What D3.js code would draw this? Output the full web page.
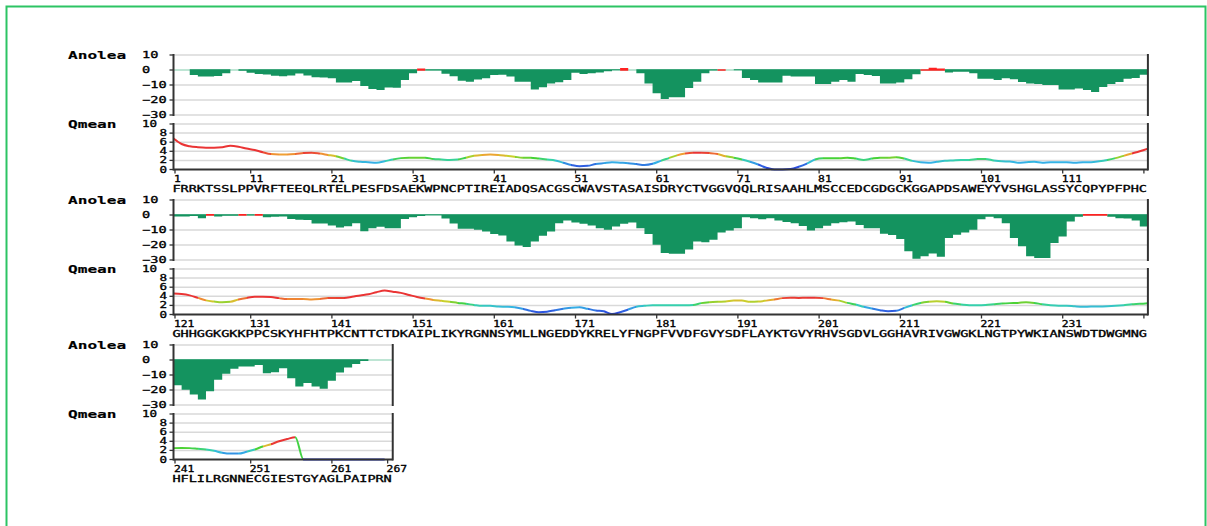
<!DOCTYPE html>
<html>
<head>
<meta charset="utf-8">
<script src="https://cdn.jsdelivr.net/npm/d3@7"></script>
<style>
  html, body { margin: 0; padding: 0; background: #ffffff; }
  svg { display: block; }
</style>
</head>
<body>
<svg id="chart" width="1207" height="526"></svg>
<script>
// Protein sequence, one letter per residue (1..267)
const sequence =
  "FRRKTSSLPPVRFTEEQLRTELPESFDSAEKWPNCPTIREIADQSACGSCWAVSTASAISDRYCTVGGVQQLRISAAHLMSCCEDCGDGCKGGAPDSAWEYYVSHGLASSYCQPYPFPHC" +
  "GHHGGKGKKPPCSKYHFHTPKCNTTCTDKAIPLIKYRGNNSYMLLNGEDDYKRELYFNGPFVVDFGVYSDFLAYKTGVYRHVSGDVLGGHAVRIVGWGKLNGTPYWKIANSWDTDWGMNG" +
  "HFLILRGNNECGIESTGYAGLPAIPRN";

// ANOLEA energy per residue (1..267)
const anolea = [
  0, 0, -3.3, -4.4, -4.4, -4, -2.2, 0, -0.5, -1.8,
  -2.7, -3, -3.8, -4.2, -3.6, -2.4, -3.6, -4.9, -5, -5.5,
  -8.4, -8.4, -7.3, -10.7, -12.7, -13.3, -11.6, -11.8, -6.7, -2.2,
  1, -0.3, -0.3, -2.5, -4.2, -7.1, -7.8, -6.4, -5.5, -3.3,
  -3.1, -4.4, -7.8, -7.8, -13, -11.5, -9, -8.2, -6.7, -1.8,
  -2.7, -2.2, -1.6, -0.9, -0.2, 1.3, 0, -2.2, -9, -15.5,
  -19.3, -18.2, -18.2, -12, -7.8, -2.2, -0.4, 0.5, 0, -0.2,
  -5.3, -6.7, -8.4, -8.4, -8.4, -3.8, -4.4, -4.4, -4.4, -9.3,
  -9.3, -7.8, -6.7, -7.8, -2.7, -3.3, -4, -9, -9, -8.4,
  -6.2, -2.9, 0.5, 1.5, 1, -1.6, -1.1, -1.1, -2.2, -5.8,
  -5.8, -6.7, -5.5, -6.2, -8, -9, -9.3, -10, -10, -13,
  -13, -12.4, -13.3, -14.7, -11.3, -9.3, -8, -5.8, -5.3, -3.1,
  -1, -1, -0.7, -2.2, 0.7, -1, -0.5, -0.5, 0.7, -0.4,
  0.7, -1.5, -1.2, -1, -2.6, -3.1, -3.3, -5.7, -5.7, -7,
  -8.4, -7.5, -5.5, -10.8, -8.8, -7.9, -8.8, -8.8, -2.6, -1.5,
  -0.7, -0.2, -0.2, -2.4, -5.7, -9.2, -9.2, -9.9, -11, -12.7,
  -13.6, -17.6, -20.4, -21.3, -17.6, -13.8, -11, -5.5, -3.7, -5,
  -5.9, -7, -8.8, -9.9, -7.7, -5.9, -5, -8.8, -12.7, -19.8,
  -25.3, -25.9, -25.9, -23, -17.6, -18.2, -16.5, -11.6, -10.3, -8.8,
  -1.5, -2.2, -2.9, -2.2, -3.7, -4.6, -5.5, -7.3, -10.3, -8.8,
  -7.2, -5.5, -4.8, -4.4, -6.6, -8.8, -8.8, -12.5, -13.4, -16,
  -24.2, -29.2, -27.5, -25.7, -27.9, -15.4, -13.2, -11.6, -9.9, -2.9,
  -1.1, -2.2, -5.5, -15.4, -20.9, -27.5, -28.6, -28.6, -18.7, -14.3,
  -4.4, -1.1, 0.7, 0.7, 0.7, -1.1, -2.2, -2.4, -3.7, -7.7,
  -16.9, -19.8, -23, -26.4, -20.9, -13.2, -9.2, -5.9, -4.4, -4.4,
  -3.3, -8.8, -8.1, -5.5, -12.1, -17.6, -15.4, -17.6, -19.1, -13.8,
  -8.4, -5, -2.6, -0.7, 0, 0, 0
];

// QMEAN local score per residue (1..267)
const qmean = [
  6.8, 5.6, 5.1, 4.9, 4.8, 4.8, 4.9, 5.2, 5.0, 4.6,
  4.3, 3.8, 3.4, 3.3, 3.3, 3.4, 3.6, 3.7, 3.5, 3.2,
  2.9, 2.4, 1.9, 1.7, 1.6, 1.5, 1.8, 2.2, 2.5, 2.6,
  2.6, 2.6, 2.3, 2.2, 2.1, 2.2, 2.6, 3.0, 3.2, 3.3,
  3.2, 3.0, 2.8, 2.6, 2.6, 2.4, 2.2, 2.0, 1.5, 1.0,
  0.7, 0.8, 1.2, 1.4, 1.6, 1.5, 1.4, 1.2, 1.0, 1.25,
  1.9, 2.5, 3.1, 3.5, 3.7, 3.7, 3.6, 3.4, 2.9, 2.6,
  2.2, 1.7, 1.1, 0.4, 0, 0, 0.1, 0.6, 1.3, 2.2,
  2.5, 2.5, 2.5, 2.6, 2.4, 2.1, 2.4, 2.6, 2.6, 2.7,
  2.4, 1.9, 1.6, 1.5, 1.7, 1.9, 2.0, 2.1, 2.1, 2.3,
  2.3, 2.0, 1.8, 1.75, 1.5, 1.6, 1.7, 1.5, 1.6, 1.6,
  1.6, 1.5, 1.6, 1.6, 1.8, 2.1, 2.5, 3.0, 3.5, 4.0,
  4.6, 4.5, 4.2, 3.65, 3.1, 2.85, 2.7, 2.8, 3.3, 3.65,
  3.9, 3.9, 3.85, 3.6, 3.4, 3.4, 3.4, 3.3, 3.4, 3.6,
  3.65, 3.65, 3.9, 4.2, 4.45, 4.9, 5.25, 5.0, 4.75, 4.3,
  3.85, 3.5, 3.2, 3.0, 2.8, 2.55, 2.35, 2.1, 1.9, 1.9,
  1.75, 1.7, 1.6, 1.25, 0.8, 0.5, 0.6, 0.95, 1.25, 1.5,
  1.6, 1.25, 0.9, 0.7, 0.1, 0.5, 1.1, 1.7, 1.9, 2.05,
  2.05, 2.05, 2.05, 2.05, 2.1, 2.5, 2.7, 2.8, 2.85, 3.05,
  3.05, 2.8, 2.85, 3.05, 3.3, 3.6, 3.7, 3.65, 3.7, 3.7,
  3.6, 3.3, 3.05, 2.55, 2.2, 1.7, 1.3, 0.95, 0.7, 0.8,
  1.45, 2.05, 2.55, 2.8, 2.9, 2.8, 2.4, 2.2, 2.05, 2.05,
  2.1, 2.25, 2.4, 2.5, 2.55, 2.7, 2.55, 2.25, 2.05, 1.95,
  1.95, 1.8, 1.7, 1.75, 1.75, 1.8, 1.9, 2.05, 2.25, 2.35,
  2.5, 2.55, 2.5, 2.35, 2.2, 1.9, 1.5, 1.3, 1.3, 1.7,
  2.2, 2.85, 3.35, 4.0, 4.5, 4.9, 0, 0, 0, 0,
  0, 0, 0, 0, 0, 0, 0
];

// Residue ranges shown on each line of the plot
const rowStarts = [1, 121, 241];
const rowEnds = [120, 240, 267];

// Axis ticks
const anoleaTicks = [10, 0, -10, -20, -30];
const qmeanTicks = [10, 8, 6, 4, 2, 0];
const residueTicks = [
  [1, 11, 21, 31, 41, 51, 61, 71, 81, 91, 101, 111, 121],
  [121, 131, 141, 151, 161, 171, 181, 191, 201, 211, 221, 231, 241],
  [241, 251, 261, 267]
];
const residueTickLabels = [
  [1, 11, 21, 31, 41, 51, 61, 71, 81, 91, 101, 111],
  [121, 131, 141, 151, 161, 171, 181, 191, 201, 211, 221, 231],
  [241, 251, 261, 267]
];

// ---------------------------------------------------------------
const svg = d3.select("#chart");
const LEFT = 173.5;          // left edge of the plotting band
const RES_W = 8.12;          // horizontal space per residue
const ROW_STEP = 145;
const FIRST_TOP = 55;
const LABEL_X = 142;         // left edge of the y tick labels
const MONO = "'DejaVu Sans Mono', 'Liberation Mono', monospace";

const barGreen = "#14935f";
const barRed = "#ff2222";
const zeroMint = "#a9dcc6";
const gridGrey = "#d9d9d9";
const axisDark = "#333333";

// QMEAN colour ramp: low = blue, mid = green, high = red
const qColor = d3.scaleLinear()
  .domain([0, 0.9, 1.6, 2.1, 2.5, 2.9, 3.3, 3.7])
  .range(["#2a3fe0", "#2f63e0", "#35b4e6", "#36d3a8", "#45d236", "#c9d02c", "#f0a033", "#ea3434"])
  .clamp(true);

// Page frame
svg.append("rect")
  .attr("x", 6.5).attr("y", 6.5)
  .attr("width", 1199).attr("height", 560)
  .attr("fill", "none")
  .attr("stroke", "#2cc464")
  .attr("stroke-width", 2);

// Text drawn with a fixed advance per character (wide, plotter-like lettering)
function wideText(g, str, x, y, charW, opts = {}) {
  return g.append("text")
    .attr("x", x).attr("y", y)
    .attr("font-family", MONO)
    .attr("font-size", opts.size || 9)
    .attr("font-weight", opts.weight || "normal")
    .attr("fill", "#000")
    .attr("stroke", "#000")
    .attr("stroke-width", opts.weight === "bold" ? 0.15 : 0.3)
    .attr("text-anchor", opts.anchor || "start")
    .attr("textLength", str.length * charW)
    .attr("lengthAdjust", "spacingAndGlyphs")
    .text(str);
}

const defs = svg.append("defs");

rowStarts.forEach((start, ri) => {
  const end = rowEnds[ri];
  const n = end - start + 1;
  const top = FIRST_TOP + ri * ROW_STEP;
  const right = LEFT + n * RES_W;

  const x = d3.scaleLinear().domain([start, end + 1]).range([LEFT, right]);
  const yA = d3.scaleLinear().domain([10, -30]).range([top, top + 60]);
  const yQ = d3.scaleLinear().domain([10, 0]).range([top + 69, top + 114.5]);

  const g = svg.append("g");
  const residues = d3.range(start, end + 1);

  // ---------- panel titles ----------
  wideText(g, "Anolea", 68, top + 4, 9.7, { size: 11, weight: "bold" });
  wideText(g, "Qmean", 68, top + 73, 9.7, { size: 11, weight: "bold" });

  // ---------- ANOLEA panel ----------
  g.append("g").selectAll("line")
    .data(anoleaTicks.filter(t => t !== 0))
    .join("line")
    .attr("x1", LEFT).attr("x2", right)
    .attr("y1", d => yA(d)).attr("y2", d => yA(d))
    .attr("stroke", gridGrey).attr("stroke-width", 1.5);

  g.append("line")
    .attr("x1", LEFT).attr("x2", right)
    .attr("y1", yA(0)).attr("y2", yA(0))
    .attr("stroke", zeroMint).attr("stroke-width", 1.6);

  // one stepped area per sign, so neighbouring residues join without seams
  const steps = residues.map(r => [x(r), anolea[r - 1]]);
  steps.push([right, anolea[end - 1]]);
  const negArea = d3.area()
    .x(p => p[0])
    .y0(p => p[1] < 0 ? yA(0) - 0.8 : yA(0))
    .y1(p => yA(Math.min(p[1], 0)))
    .curve(d3.curveStepAfter);
  const posArea = d3.area()
    .x(p => p[0])
    .y0(p => p[1] > 0 ? yA(0) + 0.8 : yA(0))
    .y1(p => yA(Math.max(p[1], 0)))
    .curve(d3.curveStepAfter);
  g.append("path").attr("d", negArea(steps)).attr("fill", barGreen);
  g.append("path").attr("d", posArea(steps)).attr("fill", barRed);

  // left / right axes and y ticks
  [LEFT, right].forEach(ax => {
    g.append("line")
      .attr("x1", ax).attr("x2", ax)
      .attr("y1", yA(10) - 1).attr("y2", yA(-30) + 1)
      .attr("stroke", axisDark).attr("stroke-width", 2);
  });
  g.append("g").selectAll("line")
    .data(anoleaTicks)
    .join("line")
    .attr("x1", LEFT - 4).attr("x2", LEFT)
    .attr("y1", d => yA(d)).attr("y2", d => yA(d))
    .attr("stroke", axisDark).attr("stroke-width", 1.3);
  anoleaTicks.forEach(t => {
    const s = String(t).replace("-", "\u2212");
    wideText(g, s, LABEL_X, yA(t) + 3, 8.2, { size: 8.5 });
  });

  // ---------- QMEAN panel ----------
  g.append("g").selectAll("line")
    .data(qmeanTicks.filter(t => t !== 0))
    .join("line")
    .attr("x1", LEFT).attr("x2", right)
    .attr("y1", d => yQ(d)).attr("y2", d => yQ(d))
    .attr("stroke", gridGrey).attr("stroke-width", 1.5);

  // line points sit at the left edge of each residue slot; rows that continue
  // on the next line end with the first residue of that line
  const pts = residues.map(r => [x(r), yQ(qmean[r - 1]), qmean[r - 1]]);
  if (end < qmean.length) pts.push([x(end + 1), yQ(qmean[end]), qmean[end]]);

  // colour each residue interval by its mean score
  const gradId = "qgrad" + ri;
  const grad = defs.append("linearGradient")
    .attr("id", gradId)
    .attr("gradientUnits", "userSpaceOnUse")
    .attr("x1", pts[0][0]).attr("x2", pts[pts.length - 1][0])
    .attr("y1", 0).attr("y2", 0);
  const span = pts[pts.length - 1][0] - pts[0][0];
  for (let k = 0; k < pts.length - 1; k++) {
    const c = qColor((pts[k][2] + pts[k + 1][2]) / 2);
    grad.append("stop").attr("offset", (pts[k][0] - pts[0][0]) / span).attr("stop-color", c);
    grad.append("stop").attr("offset", (pts[k + 1][0] - pts[0][0]) / span).attr("stop-color", c);
  }

  g.append("path")
    .attr("d", d3.line().x(p => p[0]).y(p => p[1]).curve(d3.curveMonotoneX)(pts))
    .attr("fill", "none")
    .attr("stroke", `url(#${gradId})`)
    .attr("stroke-width", 2)
    .attr("stroke-linejoin", "round");

  // axes
  [LEFT, right].forEach(ax => {
    g.append("line")
      .attr("x1", ax).attr("x2", ax)
      .attr("y1", yQ(10) - 1).attr("y2", yQ(0) + 1)
      .attr("stroke", axisDark).attr("stroke-width", 2);
  });
  g.append("line")
    .attr("x1", LEFT).attr("x2", right)
    .attr("y1", yQ(0)).attr("y2", yQ(0))
    .attr("stroke", axisDark).attr("stroke-width", 2);
  g.append("g").selectAll("line")
    .data(qmeanTicks)
    .join("line")
    .attr("x1", LEFT - 4).attr("x2", LEFT)
    .attr("y1", d => yQ(d)).attr("y2", d => yQ(d))
    .attr("stroke", axisDark).attr("stroke-width", 1.3);
  qmeanTicks.forEach(t => {
    const s = String(t);
    const lx = s.length > 1 ? LABEL_X : 159.5;
    wideText(g, s, lx, yQ(t) + 3, 7.6, { size: 8.5 });
  });

  // residue ticks along the bottom axis
  const tickX = v => {
    if (v === start) return LEFT + 1.5;
    if (v === end && v === sequence.length) return x(v) + 3;
    return x(v) - 4;
  };
  g.append("g").selectAll("line")
    .data(residueTicks[ri])
    .join("line")
    .attr("x1", tickX).attr("x2", tickX)
    .attr("y1", yQ(0)).attr("y2", yQ(0) + 4)
    .attr("stroke", axisDark).attr("stroke-width", 1.3);
  residueTickLabels[ri].forEach(v => {
    wideText(g, String(v), tickX(v) - 1, top + 127, 6.8, { size: 8 });
  });

  // sequence letters under the axis
  wideText(g, sequence.slice(start - 1, end), LEFT - 1, top + 137, RES_W, { size: 8.5 });
});
</script>
</body>
</html>
